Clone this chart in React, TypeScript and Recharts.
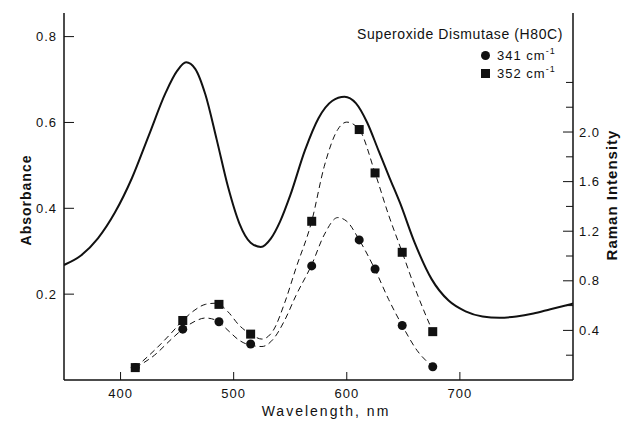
import {
  ComposedChart, Line, Scatter, XAxis, YAxis,
} from "recharts";

// absorbance spectrum (left axis)
const absWavelength = [350, 365, 380, 395, 410, 425, 440, 450, 458, 466, 475, 485, 495, 505, 515, 524, 533, 541, 550, 563, 575, 587, 598, 608, 618, 628, 638, 647, 660, 675, 690, 705, 720, 735, 750, 765, 780, 800];
const absorbance = [0.268, 0.29, 0.33, 0.39, 0.47, 0.57, 0.67, 0.72, 0.74, 0.725, 0.665, 0.56, 0.45, 0.365, 0.32, 0.31, 0.33, 0.369, 0.43, 0.535, 0.61, 0.65, 0.66, 0.645, 0.6, 0.535, 0.47, 0.413, 0.32, 0.235, 0.185, 0.16, 0.148, 0.145, 0.148, 0.155, 0.165, 0.178];

// Raman excitation profiles (right axis)
const ramanWavelength = [413, 455, 487, 515, 569, 611, 625, 649, 676];
const raman341 = [0.1, 0.41, 0.47, 0.29, 0.92, 1.13, 0.895, 0.44, 0.107];
const raman352 = [0.1, 0.48, 0.61, 0.37, 1.28, 2.02, 1.67, 1.03, 0.39];

// dashed fitted curves through the points
const fitWavelength = [413, 430, 445, 455, 465, 475, 485, 495, 505, 515, 525, 535, 545, 555, 569, 580, 592, 600, 611, 625, 637, 649, 662, 676];
const fit341 = [0.1, 0.2, 0.33, 0.41, 0.47, 0.5, 0.48, 0.4, 0.32, 0.28, 0.27, 0.33, 0.48, 0.68, 0.93, 1.17, 1.31, 1.28, 1.13, 0.89, 0.65, 0.44, 0.24, 0.107];
const fit352 = [0.1, 0.24, 0.38, 0.48, 0.56, 0.61, 0.62, 0.55, 0.44, 0.37, 0.33, 0.4, 0.62, 0.9, 1.28, 1.72, 2.02, 2.08, 2.02, 1.67, 1.33, 1.03, 0.7, 0.39];

const xTicks = [400, 500, 600, 700];
const absTicks = [0.2, 0.4, 0.6, 0.8];
const ramanTicks = [0.2, 0.4, 0.6, 0.8, 1.0, 1.2, 1.4, 1.6, 1.8, 2.0, 2.2, 2.4];
const ramanLabelled = [0.4, 0.8, 1.2, 1.6, 2.0];

const absData = absWavelength.map((x, i) => ({ x, v: absorbance[i] }));
const pts341 = ramanWavelength.map((x, i) => ({ x, v: raman341[i] }));
const pts352 = ramanWavelength.map((x, i) => ({ x, v: raman352[i] }));
const fit341Data = fitWavelength.map((x, i) => ({ x, v: fit341[i] }));
const fit352Data = fitWavelength.map((x, i) => ({ x, v: fit352[i] }));

const FONT = "'Liberation Sans', Arial, sans-serif";
const INK = "#111";

const BottomTick = ({ x, y, payload }: any) => (
  <g>
    <line x1={x} x2={x} y1={y - 8} y2={y - 16} stroke={INK} />
    <text x={x} y={y} dy="0.75em" textAnchor="middle" fontSize={13} fill={INK} fontFamily={FONT} letterSpacing={1}>
      {payload.value}
    </text>
  </g>
);

const LeftTick = ({ x, y, payload }: any) => (
  <g>
    <line x1={x + 7} x2={x + 17} y1={y} y2={y} stroke={INK} />
    <text x={x} y={y} dy="0.35em" textAnchor="end" fontSize={13} fill={INK} fontFamily={FONT} letterSpacing={1}>
      {payload.value.toFixed(1)}
    </text>
  </g>
);

const RightTick = ({ x, y, payload }: any) => {
  const major = ramanLabelled.some((t) => Math.abs(t - payload.value) < 1e-6);
  return (
    <g>
      <line x1={x - 6} x2={x - 6 - (major ? 10 : 7)} y1={y} y2={y} stroke={INK} />
      {major && (
        <text x={x} y={y} dy="0.35em" textAnchor="start" fontSize={13} fill={INK} fontFamily={FONT} letterSpacing={1}>
          {payload.value.toFixed(1)}
        </text>
      )}
    </g>
  );
};

const Dot = (p: any) => <circle cx={p.cx} cy={p.cy} r={4.5} fill={INK} />;
const Square = (p: any) => <rect x={p.cx - 4.5} y={p.cy - 4.5} width={9} height={9} fill={INK} />;

const legendRow = { position: "absolute" as const, left: 481, fontSize: 13, letterSpacing: 1, whiteSpace: "nowrap" as const };

export default function App() {
  return (
    <div style={{ position: "absolute", left: 0, top: 0, width: 623, height: 424, background: "#fff", fontFamily: FONT, color: INK }}>
      <ComposedChart width={623} height={424} margin={{ top: 13, right: 6, bottom: 4, left: 8 }}>
        <XAxis
          dataKey="x" type="number" domain={[350, 800]} ticks={xTicks}
          allowDataOverflow tickSize={0} tickMargin={8} height={40}
          axisLine={{ stroke: INK, strokeWidth: 1.5 }} tickLine={false} tick={<BottomTick />}
        />
        <XAxis
          xAxisId="top" orientation="top" dataKey="x" type="number" domain={[350, 800]}
          height={0} tick={false} tickLine={false} axisLine={{ stroke: INK }}
        />
        <YAxis
          yAxisId="abs" type="number" domain={[0, 0.855]} ticks={absTicks} width={56}
          tickSize={0} tickMargin={7} axisLine={{ stroke: INK, strokeWidth: 1.5 }} tickLine={false} tick={<LeftTick />}
        />
        <YAxis
          yAxisId="raman" orientation="right" type="number" domain={[0, 2.96]} ticks={ramanTicks} width={44}
          tickSize={0} tickMargin={6} axisLine={{ stroke: INK, strokeWidth: 1.5 }} tickLine={false} tick={<RightTick />}
        />
        <Line
          yAxisId="abs" data={absData} dataKey="v" type="monotone" stroke={INK} strokeWidth={2}
          dot={false} activeDot={false} isAnimationActive={false}
        />
        <Line
          yAxisId="raman" data={fit341Data} dataKey="v" type="monotone" stroke={INK} strokeWidth={1}
          strokeDasharray="6 4" dot={false} activeDot={false} isAnimationActive={false}
        />
        <Line
          yAxisId="raman" data={fit352Data} dataKey="v" type="monotone" stroke={INK} strokeWidth={1}
          strokeDasharray="6 4" dot={false} activeDot={false} isAnimationActive={false}
        />
        <Scatter yAxisId="raman" data={pts341} dataKey="v" shape={<Dot />} isAnimationActive={false} />
        <Scatter yAxisId="raman" data={pts352} dataKey="v" shape={<Square />} isAnimationActive={false} />
      </ComposedChart>

      {/* axis titles */}
      <div style={{ position: "absolute", left: 26, top: 200, transform: "translate(-50%, -50%) rotate(-90deg)", fontSize: 14, fontWeight: 700, letterSpacing: 1, whiteSpace: "nowrap" }}>
        Absorbance
      </div>
      <div style={{ position: "absolute", left: 611, top: 195, transform: "translate(-50%, -50%) rotate(-90deg)", fontSize: 15, fontWeight: 700, letterSpacing: 1, whiteSpace: "nowrap" }}>
        Raman Intensity
      </div>
      <div style={{ position: "absolute", left: 326, top: 411, transform: "translate(-50%, -50%)", fontSize: 14, letterSpacing: 2, whiteSpace: "nowrap" }}>
        Wavelength, nm
      </div>

      {/* legend */}
      <div style={{ position: "absolute", left: 357, top: 26, fontSize: 14, letterSpacing: 0.6, whiteSpace: "nowrap" }}>
        Superoxide Dismutase (H80C)
      </div>
      <div style={{ ...legendRow, top: 48 }}>
        <span style={{ display: "inline-block", width: 9, height: 9, borderRadius: "50%", background: INK, marginRight: 7 }} />
        <span>341 cm<sup style={{ fontSize: 9, verticalAlign: "6px", lineHeight: 0 }}>-1</sup></span>
      </div>
      <div style={{ ...legendRow, top: 66 }}>
        <span style={{ display: "inline-block", width: 9, height: 9, background: INK, marginRight: 7 }} />
        <span>352 cm<sup style={{ fontSize: 9, verticalAlign: "6px", lineHeight: 0 }}>-1</sup></span>
      </div>
    </div>
  );
}
